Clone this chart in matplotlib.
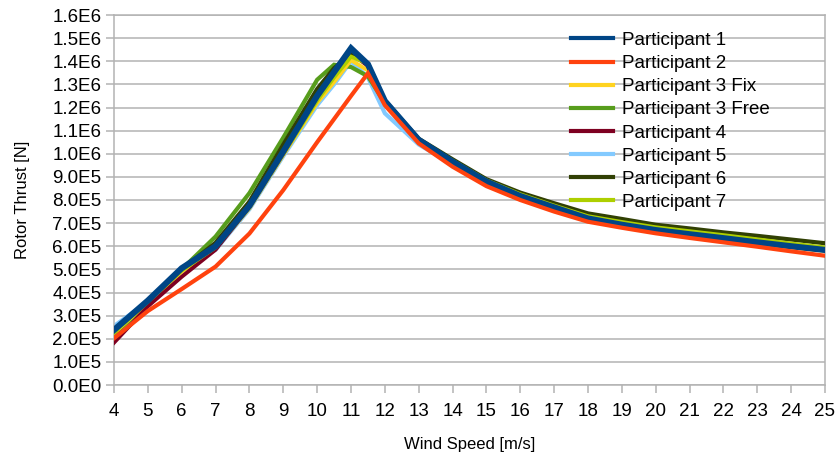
import matplotlib
matplotlib.use("Agg")
import matplotlib.pyplot as plt
from matplotlib.ticker import FixedLocator, FuncFormatter

plt.rcParams['font.family'] = ['Liberation Sans', 'DejaVu Sans']

# Wind speed samples [m/s]
wind = [4, 5, 6, 7, 8, 9, 10, 10.5, 11, 11.5, 12, 13, 14, 15, 16, 17, 18, 19, 20, 21, 22, 23, 24, 25]

# Rotor thrust [N] per participant
p1 = [2.38e5, 3.65e5, 5.05e5, 6.00e5, 7.75e5, 1.010e6, 1.250e6, 1.353e6, 1.456e6, 1.387e6, 1.228e6,
      1.060e6, 9.66e5, 8.80e5, 8.17e5, 7.68e5, 7.20e5, 6.93e5, 6.70e5, 6.52e5, 6.35e5, 6.17e5, 6.00e5, 5.84e5]
p2 = [2.02e5, 3.20e5, 4.15e5, 5.12e5, 6.55e5, 8.43e5, 1.050e6, 1.150e6, 1.250e6, 1.348e6, 1.210e6,
      1.045e6, 9.44e5, 8.60e5, 8.00e5, 7.50e5, 7.06e5, 6.80e5, 6.56e5, 6.36e5, 6.17e5, 5.98e5, 5.78e5, 5.59e5]
p3_fix = [2.25e5, 3.55e5, 4.90e5, 5.90e5, 7.64e5, 9.95e5, 1.220e6, 1.310e6, 1.405e6, 1.360e6, 1.215e6,
          1.050e6, 9.58e5, 8.75e5, 8.12e5, 7.62e5, 7.15e5, 6.88e5, 6.65e5, 6.47e5, 6.30e5, 6.12e5, 5.95e5, 5.80e5]
p3_free = [2.16e5, 3.55e5, 5.00e5, 6.42e5, 8.30e5, 1.070e6, 1.320e6, 1.385e6, 1.375e6, 1.335e6, 1.220e6,
           1.050e6, 9.60e5, 8.78e5, 8.15e5, 7.65e5, 7.18e5, 6.90e5, 6.67e5, 6.49e5, 6.32e5, 6.14e5, 5.97e5, 5.82e5]
p4 = [1.83e5, 3.40e5, 4.68e5, 5.85e5, 7.70e5, 1.000e6, 1.240e6, 1.340e6, 1.434e6, 1.380e6, 1.220e6,
      1.055e6, 9.62e5, 8.78e5, 8.15e5, 7.66e5, 7.18e5, 6.91e5, 6.68e5, 6.50e5, 6.33e5, 6.15e5, 5.98e5, 5.82e5]
p5 = [2.55e5, 3.60e5, 5.00e5, 5.85e5, 7.60e5, 9.90e5, 1.210e6, 1.300e6, 1.400e6, 1.330e6, 1.175e6,
      1.040e6, 9.55e5, 8.75e5, 8.15e5, 7.68e5, 7.22e5, 6.95e5, 6.75e5, 6.58e5, 6.40e5, 6.23e5, 6.07e5, 5.91e5]
p6 = [2.30e5, 3.65e5, 5.00e5, 6.15e5, 7.93e5, 1.040e6, 1.280e6, 1.370e6, 1.430e6, 1.390e6, 1.230e6,
      1.065e6, 9.76e5, 8.90e5, 8.32e5, 7.86e5, 7.42e5, 7.18e5, 6.93e5, 6.77e5, 6.60e5, 6.45e5, 6.29e5, 6.13e5]
p7 = [2.28e5, 3.60e5, 4.95e5, 5.95e5, 7.70e5, 1.000e6, 1.230e6, 1.330e6, 1.420e6, 1.390e6, 1.225e6,
      1.060e6, 9.70e5, 8.85e5, 8.25e5, 7.76e5, 7.30e5, 7.05e5, 6.82e5, 6.65e5, 6.48e5, 6.30e5, 6.12e5, 5.95e5]

labels = ['Participant 1', 'Participant 2', 'Participant 3 Fix', 'Participant 3 Free',
          'Participant 4', 'Participant 5', 'Participant 6', 'Participant 7']
series = [p1, p2, p3_fix, p3_free, p4, p5, p6, p7]
colors = ['#004586', '#ff420e', '#ffd320', '#579d1c', '#7e0021', '#83caff', '#314004', '#aecf00']
widths = [4.4, 3.0, 2.8, 3.0, 2.8, 3.0, 3.0, 2.8]
layers = [9, 10, 4, 3, 5, 2, 6, 7]

x_ticks = list(range(4, 26))
y_ticks = [i * 1e5 for i in range(0, 17)]

fig = plt.figure(figsize=(8.37, 4.58), dpi=100)
ax = fig.add_axes([114 / 837, 73 / 458, 711 / 837, 370 / 458])

for ys, lab, c, lw, z in zip(series, labels, colors, widths, layers):
    ax.plot(wind, ys, color=c, lw=lw, label=lab, zorder=z, solid_joinstyle='miter')

ax.set_xlim(4, 25)
ax.set_ylim(0, 1.6e6)
ax.xaxis.set_major_locator(FixedLocator(x_ticks))
ax.yaxis.set_major_locator(FixedLocator(y_ticks))


def sci(v, _):
    if v == 0:
        return '0.0E0'
    e = 0
    m = v
    while abs(m) >= 10:
        m /= 10
        e += 1
    return f'{m:.1f}E{e}'


ax.yaxis.set_major_formatter(FuncFormatter(sci))
ax.grid(axis='y', color='#b3b3b3', lw=1.1)
ax.set_axisbelow(True)
for s in ax.spines.values():
    s.set_color('#b3b3b3')
    s.set_linewidth(1.1)
ax.tick_params(axis='both', direction='out', length=6, width=1.1, color='#b3b3b3',
               labelsize=13.5, labelcolor='#000000', pad=3)
ax.tick_params(axis='x', pad=7)

ax.set_xlabel('Wind Speed [m/s]', fontsize=12, labelpad=12)
ax.set_ylabel('Rotor Thrust [N]', fontsize=12, labelpad=16)

leg = ax.legend(loc='upper left', bbox_to_anchor=(0.619, 1.0), frameon=False, fontsize=13.5,
                handlelength=2.25, handletextpad=0.45, labelspacing=0.32, borderaxespad=0.5)
for ln in leg.get_lines():
    ln.set_linewidth(3.0)

fig.savefig('out.png', dpi=100)
